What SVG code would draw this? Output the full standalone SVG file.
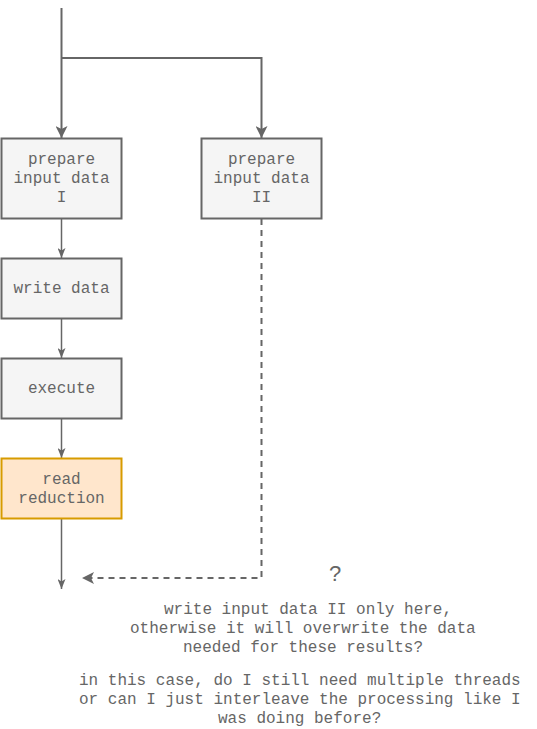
<svg xmlns="http://www.w3.org/2000/svg" width="537" height="729" viewBox="0 0 537 729">
<defs>
<style>
.box{fill:#f5f5f5;stroke:#666666;stroke-width:2}
.hl{fill:#ffe6cc;stroke:#d79b00;stroke-width:2}
.t{font-family:"Liberation Mono","Courier New",monospace;font-size:16px;fill:#666666}
.c{text-anchor:middle}
.ln{fill:none;stroke:#666666;stroke-width:2}
.ln2{fill:none;stroke:#666666;stroke-width:1.5}
.dash{fill:none;stroke:#666666;stroke-width:2;stroke-dasharray:6 5}
</style>
<marker id="big" markerUnits="userSpaceOnUse" viewBox="0 0 12 12" refX="12" refY="6" markerWidth="12" markerHeight="12" orient="auto">
<path d="M0,0 L12,6 L0,12 L3,6 Z" fill="#666666"/>
</marker>
<marker id="small" markerUnits="userSpaceOnUse" viewBox="0 0 10 8" refX="10" refY="4" markerWidth="10" markerHeight="8" orient="auto">
<path d="M0,0 L10,4 L0,8 L2.5,4 Z" fill="#666666"/>
</marker>
</defs>
<g id="connectors">
<path class="ln" d="M61.5,8 V138" marker-end="url(#big)"/>
<path class="ln" d="M61.5,58 H261.5 V138" marker-end="url(#big)"/>
<path class="ln2" d="M61.5,219 V258" marker-end="url(#small)"/>
<path class="ln2" d="M61.5,319 V358" marker-end="url(#small)"/>
<path class="ln2" d="M61.5,419 V458" marker-end="url(#small)"/>
<path class="ln2" d="M61.5,519 V589" marker-end="url(#small)"/>
<path class="dash" d="M261.5,219 V578 H82" marker-end="url(#big)"/>
</g>
<g id="prep1">
<rect class="box" x="1.5" y="138.5" width="120" height="80"/>
<text class="t c" x="61.5" y="164">prepare</text>
<text class="t c" x="61.5" y="183">input data</text>
<text class="t c" x="61.5" y="202">I</text>
</g>
<g id="prep2">
<rect class="box" x="201.5" y="138.5" width="120" height="80"/>
<text class="t c" x="261.5" y="164">prepare</text>
<text class="t c" x="261.5" y="183">input data</text>
<text class="t c" x="261.5" y="202">II</text>
</g>
<g id="write">
<rect class="box" x="1.5" y="258.5" width="120" height="60"/>
<text class="t c" x="61.5" y="293">write data</text>
</g>
<g id="execute">
<rect class="box" x="1.5" y="358.5" width="120" height="60"/>
<text class="t c" x="61.5" y="393">execute</text>
</g>
<g id="read">
<rect class="hl" x="1.5" y="458.5" width="120" height="60"/>
<text class="t c" x="61.5" y="484">read</text>
<text class="t c" x="61.5" y="503">reduction</text>
</g>
<g id="question">
<text x="335" y="581" text-anchor="middle" style="font-family:'Liberation Sans',Arial,sans-serif;font-size:22px;fill:#666666">?</text>
</g>
<g id="note1">
<text class="t" x="164" y="614">write input data II only here,</text>
<text class="t" x="130" y="633">otherwise it will overwrite the data</text>
<text class="t" x="183" y="652">needed for these results?</text>
</g>
<g id="note2">
<text class="t" x="79" y="685">in this case, do I still need multiple threads</text>
<text class="t" x="79" y="704">or can I just interleave the processing like I</text>
<text class="t" x="218" y="723">was doing before?</text>
</g>
</svg>
